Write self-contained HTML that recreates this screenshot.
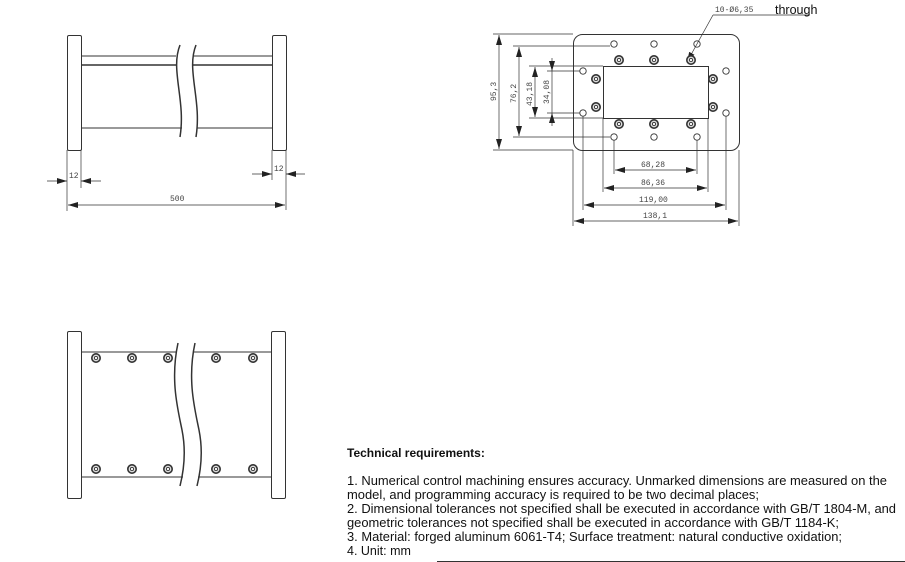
<!DOCTYPE html>
<html><head><style>html,body{margin:0;padding:0;background:#fff}svg{display:block}</style></head>
<body>
<svg width="905" height="562" viewBox="0 0 905 562" xmlns="http://www.w3.org/2000/svg" font-family="Liberation Sans, sans-serif">
<defs>
<marker id="a" viewBox="0 0 10 6" refX="10" refY="3" markerWidth="10" markerHeight="6" orient="auto-start-reverse" markerUnits="userSpaceOnUse"><path d="M0,0L10,3L0,6z" fill="#222"/></marker>
<g id="b"><circle r="4.2" stroke-width="1.6" fill="#ddd" stroke="#333"/><circle r="1.6" stroke-width="0.9" fill="#fff" stroke="#333"/></g>
</defs>
<g stroke="#333" fill="none" stroke-width="1">
<rect x="67.5" y="35.5" width="14" height="115" rx="1.5"/>
<rect x="272.5" y="35.5" width="14" height="115" rx="1.5"/>
<line x1="81" y1="56" x2="176" y2="56"/><line x1="81" y1="65" x2="176" y2="65" stroke-width="1.5"/>
<line x1="193" y1="56" x2="272" y2="56"/><line x1="193" y1="65" x2="272" y2="65" stroke-width="1.5"/>
<line x1="81" y1="128" x2="182" y2="128"/><line x1="197" y1="128" x2="272" y2="128"/>
<path d="M180,45 C170,70 186,100 180,137" stroke-width="1.5"/>
<path d="M196,45 C186,70 202,100 196,137" stroke-width="1.5"/>
<line x1="67" y1="150" x2="67" y2="190" stroke-width="0.7"/><line x1="81" y1="150" x2="81" y2="188" stroke-width="0.7"/>
<line x1="47" y1="181" x2="67" y2="181" marker-end="url(#a)" stroke-width="0.7"/>
<line x1="101" y1="181" x2="81" y2="181" marker-end="url(#a)" stroke-width="0.7"/>
<line x1="272" y1="150" x2="272" y2="180" stroke-width="0.7"/><line x1="286" y1="150" x2="286" y2="210" stroke-width="0.7"/>
<line x1="252" y1="174" x2="272" y2="174" marker-end="url(#a)" stroke-width="0.7"/>
<line x1="305" y1="174" x2="286" y2="174" marker-end="url(#a)" stroke-width="0.7"/>
<line x1="67" y1="190" x2="67" y2="211" stroke-width="0.7"/>
<line x1="68" y1="205" x2="285" y2="205" marker-start="url(#a)" marker-end="url(#a)" stroke-width="0.7"/>
<rect x="67.5" y="331.5" width="14" height="167" rx="1.5"/>
<rect x="271.5" y="331.5" width="14" height="167" rx="1.5"/>
<line x1="81" y1="352" x2="177" y2="352"/><line x1="193" y1="352" x2="271" y2="352"/>
<line x1="81" y1="477" x2="183" y2="477"/><line x1="198" y1="477" x2="271" y2="477"/>
<path d="M178,343 C170,380 178,410 182,430 C186,450 184,470 180,486" stroke-width="1.5"/>
<path d="M195,343 C187,380 195,410 199,430 C203,450 201,470 197,486" stroke-width="1.5"/>
<rect x="573.5" y="34.5" width="166" height="116" rx="9"/>
<rect x="603.5" y="66.5" width="105" height="52"/>
<g stroke-width="0.7">
<line x1="493" y1="34" x2="573" y2="34"/><line x1="493" y1="150" x2="573" y2="150"/>
<line x1="499" y1="35" x2="499" y2="149" marker-start="url(#a)" marker-end="url(#a)"/>
<line x1="513" y1="46" x2="610" y2="46"/><line x1="513" y1="137" x2="610" y2="137"/>
<line x1="519" y1="47" x2="519" y2="136" marker-start="url(#a)" marker-end="url(#a)"/>
<line x1="529" y1="66" x2="603" y2="66"/><line x1="529" y1="118" x2="603" y2="118"/>
<line x1="535" y1="67" x2="535" y2="117" marker-start="url(#a)" marker-end="url(#a)"/>
<line x1="547" y1="71" x2="580" y2="71"/><line x1="547" y1="113" x2="580" y2="113"/>
<line x1="552" y1="58" x2="552" y2="71" marker-end="url(#a)"/>
<line x1="552" y1="126" x2="552" y2="113" marker-end="url(#a)"/>
<line x1="552" y1="71" x2="552" y2="113"/>
<line x1="614" y1="140" x2="614" y2="174"/><line x1="697" y1="140" x2="697" y2="174"/>
<line x1="615" y1="170" x2="696" y2="170" marker-start="url(#a)" marker-end="url(#a)"/>
<line x1="603" y1="118" x2="603" y2="192"/><line x1="708" y1="118" x2="708" y2="192"/>
<line x1="604" y1="188" x2="707" y2="188" marker-start="url(#a)" marker-end="url(#a)"/>
<line x1="583" y1="116" x2="583" y2="210"/><line x1="726" y1="116" x2="726" y2="210"/>
<line x1="584" y1="205" x2="725" y2="205" marker-start="url(#a)" marker-end="url(#a)"/>
<line x1="573" y1="150" x2="573" y2="226"/><line x1="739" y1="150" x2="739" y2="226"/>
<line x1="574" y1="221" x2="738" y2="221" marker-start="url(#a)" marker-end="url(#a)"/>
<line x1="713" y1="15" x2="810" y2="15"/>
<line x1="713" y1="15" x2="687" y2="62" marker-end="url(#a)"/>
</g>
<g stroke-width="0.9">
<circle cx="614" cy="44" r="3.2"/><circle cx="654" cy="44" r="3.2"/><circle cx="697" cy="44" r="3.2"/>
<circle cx="583" cy="71" r="3.2"/><circle cx="726" cy="71" r="3.2"/>
<circle cx="583" cy="113" r="3.2"/><circle cx="726" cy="113" r="3.2"/>
<circle cx="614" cy="137" r="3.2"/><circle cx="654" cy="137" r="3.2"/><circle cx="697" cy="137" r="3.2"/>
</g>
</g>
<g>
<use href="#b" x="619" y="60"/><use href="#b" x="654" y="60"/><use href="#b" x="691" y="60"/>
<use href="#b" x="596" y="79"/><use href="#b" x="596" y="107"/>
<use href="#b" x="713" y="79"/><use href="#b" x="713" y="107"/>
<use href="#b" x="619" y="124"/><use href="#b" x="654" y="124"/><use href="#b" x="691" y="124"/>
<use href="#b" x="96" y="358"/><use href="#b" x="132" y="358"/><use href="#b" x="168" y="358"/><use href="#b" x="216" y="358"/><use href="#b" x="253" y="358"/>
<use href="#b" x="96" y="469"/><use href="#b" x="132" y="469"/><use href="#b" x="168" y="469"/><use href="#b" x="216" y="469"/><use href="#b" x="253" y="469"/>
</g>
<g fill="#444" font-size="8" font-family="Liberation Mono, monospace">
<text x="69" y="178">12</text><text x="274" y="171">12</text>
<text x="170" y="201">500</text>
<text x="641" y="167">68,28</text><text x="641" y="185">86,36</text>
<text x="639" y="202">119,00</text><text x="643" y="218">138,1</text>
<text x="715" y="12">10-Ø6,35</text>
<text transform="translate(496,101) rotate(-90)">95,3</text>
<text transform="translate(516,103) rotate(-90)">76,2</text>
<text transform="translate(532,106) rotate(-90)">43,18</text>
<text transform="translate(549,104) rotate(-90)">34,08</text>
</g>
<text x="775" y="14" font-size="12.5" fill="#111">through</text>
<g fill="#111" font-size="12.5">
<text x="347" y="457" font-weight="bold" font-size="12">Technical requirements:</text>
<text x="347" y="485" textLength="540" lengthAdjust="spacingAndGlyphs">1. Numerical control machining ensures accuracy. Unmarked dimensions are measured on the</text>
<text x="347" y="499" textLength="412" lengthAdjust="spacingAndGlyphs">model, and programming accuracy is required to be two decimal places;</text>
<text x="347" y="513" textLength="549" lengthAdjust="spacingAndGlyphs">2. Dimensional tolerances not specified shall be executed in accordance with GB/T 1804-M, and</text>
<text x="347" y="527" textLength="492" lengthAdjust="spacingAndGlyphs">geometric tolerances not specified shall be executed in accordance with GB/T 1184-K;</text>
<text x="347" y="541" textLength="495" lengthAdjust="spacingAndGlyphs">3. Material: forged aluminum 6061-T4; Surface treatment: natural conductive oxidation;</text>
<text x="347" y="555">4. Unit: mm</text>
</g>
<line x1="437" y1="561.5" x2="905" y2="561.5" stroke="#333"/>
</svg>
</body></html>
